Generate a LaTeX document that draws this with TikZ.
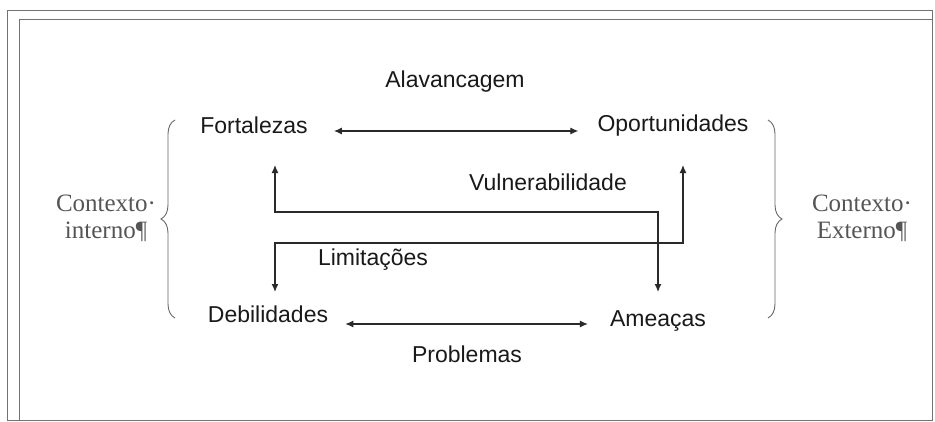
\documentclass[tikz,border=0pt]{standalone}
\usepackage{fontspec}
\usepackage{xcolor}
\usepackage{tikz}
\usetikzlibrary{arrows.meta, decorations.pathreplacing}
\newfontfamily\arialfont{Liberation Sans}
\newfontfamily\timesfont{Liberation Serif}
\definecolor{txtgray}{HTML}{555555}
\definecolor{linegray}{HTML}{2A2A2A}

\begin{document}
\begin{tikzpicture}[x=1pt, y=-1pt, >={Latex[length=8pt, width=7pt]},
    every node/.style={inner sep=0pt, text=black!90, font=\arialfont\fontsize{23}{27}\selectfont},
    ctx/.style={font=\timesfont\fontsize{25}{27}\selectfont, text=txtgray, align=center},
    conn/.style={<->, line width=1.2pt, linegray},
    brc/.style={decorate, decoration={brace, amplitude=14pt}, black!60, line width=0.9pt}]
    \useasboundingbox (0,0) rectangle (935,421);
    % frame
    \draw[black!55, line width=1pt] (7,420) -- (7,10) -- (932,10) -- (932,420) -- cycle;
    \draw[black!55, line width=1pt] (19,420) -- (19,19) -- (932,19);

    % labels
    \node[anchor=base] (alav) at (455,87) {Alavancagem};
    \node[anchor=base] (fort) at (254,133) {Fortalezas};
    \node[anchor=base] (oport) at (673,131) {Oportunidades};
    \node[anchor=base] (vuln) at (548,190) {Vulnerabilidade};
    \node[anchor=base] (limit) at (373,265) {Limitações};
    \node[anchor=base] (debil) at (268,322) {Debilidades};
    \node[anchor=base] (amea) at (658,326) {Ameaças};
    \node[anchor=base] (probl) at (467,362) {Problemas};

    \node[ctx] (cint) at (106,218) {Contexto·\\interno¶};
    \node[ctx] (cext) at (862,218) {Contexto·\\Externo¶};

    % connectors
    \draw[conn] ([xshift=26pt,yshift=2pt]fort.base east) -- ([xshift=-19pt,yshift=2pt]fort.base east -| oport.base west);
    \draw[conn] ([xshift=17pt,yshift=-2pt]debil.base east) -- ([xshift=-22pt,yshift=-2pt]debil.base east -| amea.base west);
    \draw[conn] ([xshift=21pt,yshift=-32pt]fort.base) -- ++(0,47) -| ([yshift=34pt]amea.base);
    \draw[conn] ([xshift=7pt,yshift=30pt]debil.base) -- ++(0,-49) -| ([xshift=10pt,yshift=-34pt]oport.base);

    % braces
    \draw[brc] (175,318) -- (175,120);
    \draw[brc] (768,120) -- (768,318);
\end{tikzpicture}
\end{document}
